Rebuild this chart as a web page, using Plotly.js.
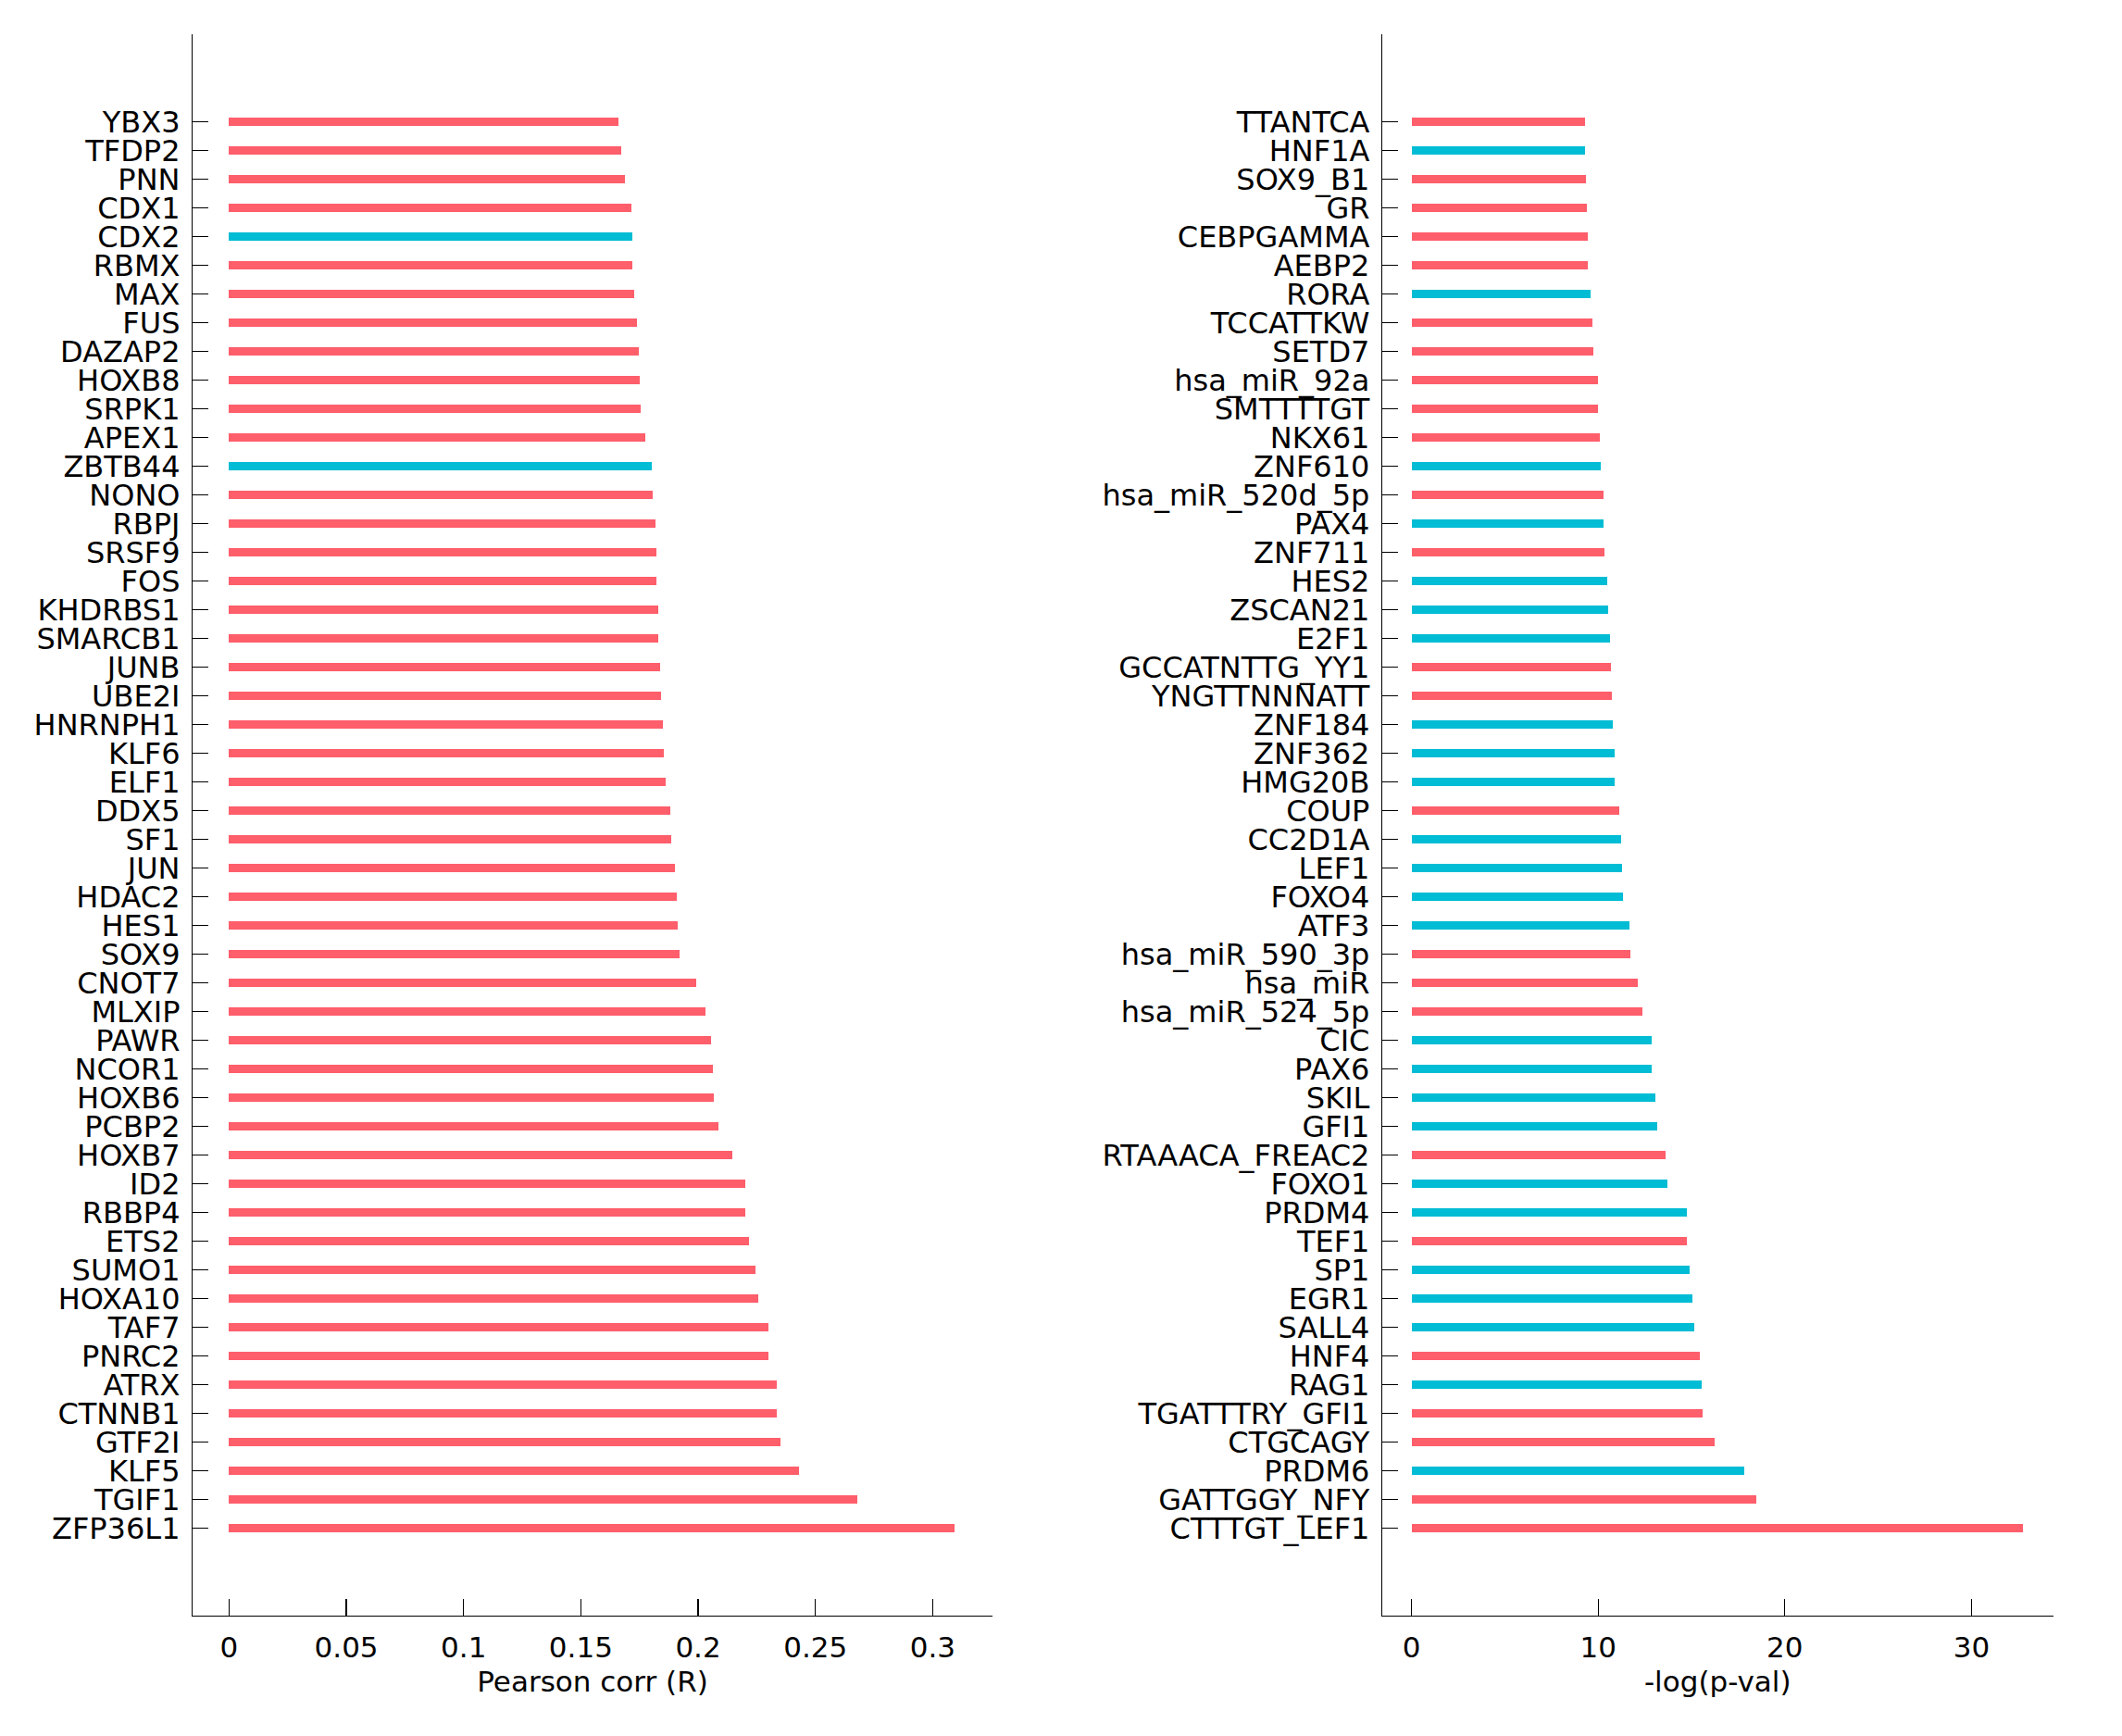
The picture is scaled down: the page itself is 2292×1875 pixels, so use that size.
<!DOCTYPE html>
<html>
<head>
<meta charset="utf-8">
<script src="https://cdn.plot.ly/plotly-3.0.1.min.js"></script>
<style>
html, body { margin: 0; padding: 0; background: #fff; }
#chart { width: 2292px; height: 1875px; }
</style>
</head>
<body>
<div id="chart"></div>
<script>
// Left panel: Pearson correlation (listed top to bottom)
const corrNames = ["YBX3","TFDP2","PNN","CDX1","CDX2","RBMX","MAX","FUS","DAZAP2","HOXB8","SRPK1","APEX1","ZBTB44","NONO","RBPJ","SRSF9","FOS","KHDRBS1","SMARCB1","JUNB","UBE2I","HNRNPH1","KLF6","ELF1","DDX5","SF1","JUN","HDAC2","HES1","SOX9","CNOT7","MLXIP","PAWR","NCOR1","HOXB6","PCBP2","HOXB7","ID2","RBBP4","ETS2","SUMO1","HOXA10","TAF7","PNRC2","ATRX","CTNNB1","GTF2I","KLF5","TGIF1","ZFP36L1"];
const corrValues = [0.1661,0.1672,0.1688,0.1715,0.1718,0.1720,0.1727,0.1740,0.1747,0.1752,0.1756,0.1776,0.1801,0.1806,0.1820,0.1822,0.1824,0.1829,0.1831,0.1838,0.1842,0.1851,0.1852,0.1860,0.1883,0.1884,0.1901,0.1910,0.1911,0.1921,0.1992,0.2032,0.2057,0.2064,0.2067,0.2085,0.2146,0.2202,0.2202,0.2218,0.2245,0.2257,0.2298,0.2299,0.2336,0.2337,0.2350,0.2429,0.2680,0.3095];
const corrGroup = ["r","r","r","r","c","r","r","r","r","r","r","r","c","r","r","r","r","r","r","r","r","r","r","r","r","r","r","r","r","r","r","r","r","r","r","r","r","r","r","r","r","r","r","r","r","r","r","r","r","r"];

// Right panel: -log(p-val) (listed top to bottom)
const pNames = ["TTANTCA","HNF1A","SOX9_B1","GR","CEBPGAMMA","AEBP2","RORA","TCCATTKW","SETD7","hsa_miR_92a","SMTTTTGT","NKX61","ZNF610","hsa_miR_520d_5p","PAX4","ZNF711","HES2","ZSCAN21","E2F1","GCCATNTTG_YY1","YNGTTNNNATT","ZNF184","ZNF362","HMG20B","COUP","CC2D1A","LEF1","FOXO4","ATF3","hsa_miR_590_3p","hsa_miR","hsa_miR_524_5p","CIC","PAX6","SKIL","GFI1","RTAAACA_FREAC2","FOXO1","PRDM4","TEF1","SP1","EGR1","SALL4","HNF4","RAG1","TGATTTRY_GFI1","CTGCAGY","PRDM6","GATTGGY_NFY","CTTTGT_LEF1"];
const pValues = [9.27,9.30,9.34,9.41,9.45,9.46,9.59,9.70,9.74,9.99,9.99,10.10,10.13,10.28,10.31,10.35,10.50,10.53,10.64,10.68,10.71,10.79,10.86,10.87,11.11,11.22,11.29,11.33,11.65,11.73,12.12,12.38,12.85,12.88,13.07,13.17,13.61,13.72,14.73,14.77,14.91,15.06,15.16,15.42,15.56,15.60,16.25,17.81,18.49,32.75];
const pGroup = ["r","c","r","r","r","r","c","r","r","r","r","r","c","r","c","r","c","c","c","r","r","c","c","c","r","c","c","c","c","r","r","r","c","c","c","c","r","c","c","r","c","c","c","r","c","r","r","c","r","r"];

const xTicksLeft = [0,0.05,0.1,0.15,0.2,0.25,0.3];
const xTickTextLeft = ["0","0.05","0.1","0.15","0.2","0.25","0.3"];
const xTicksRight = [0,10,20,30];
const xTickTextRight = ["0","10","20","30"];

const palette = { r: "#FF5E6B", c: "#00BCD4" };
const FONT = "DejaVu Sans, sans-serif";

const traces = [
  {
    type: "bar", orientation: "h",
    x: corrValues, y: corrNames,
    marker: { color: corrGroup.map(g => palette[g]), line: { width: 0 } },
    width: 0.3, xaxis: "x", yaxis: "y", hoverinfo: "x+y", showlegend: false
  },
  {
    type: "bar", orientation: "h",
    x: pValues, y: pNames,
    marker: { color: pGroup.map(g => palette[g]), line: { width: 0 } },
    width: 0.3, xaxis: "x2", yaxis: "y2", hoverinfo: "x+y", showlegend: false
  }
];

const yCommon = {
  type: "category",
  range: [52.05, -3.05],
  showline: true, linecolor: "#000", linewidth: 1.2,
  ticks: "inside", ticklen: 17, tickwidth: 1.2, tickcolor: "#000",
  showgrid: false, zeroline: false,
  tickfont: { family: FONT, size: 32, color: "#000" },
  ticklabelstandoff: 6,
  tickmode: "array",
  domain: [0.0693, 0.9801],
  fixedrange: true
};
const xCommon = {
  showline: true, linecolor: "#000", linewidth: 1.2,
  ticks: "inside", ticklen: 18, tickwidth: 1.2, tickcolor: "#000",
  showgrid: false, zeroline: false,
  tickfont: { family: FONT, size: 31, color: "#000" },
  ticklabelstandoff: 7,
  tickmode: "array",
  fixedrange: true
};

const layout = {
  width: 2292, height: 1875,
  margin: { l: 0, r: 0, t: 0, b: 0 },
  paper_bgcolor: "#fff", plot_bgcolor: "#fff",
  bargap: 0,
  xaxis: Object.assign({}, xCommon, {
    domain: [0.0908, 0.4677], anchor: "y",
    range: [-0.01551, 0.3255],
    tickvals: xTicksLeft, ticktext: xTickTextLeft,
    title: { text: "Pearson corr (R)", font: { family: FONT, size: 31, color: "#000" }, standoff: 8 }
  }),
  yaxis: Object.assign({}, yCommon, { anchor: "x", tickvals: corrNames, ticktext: corrNames }),
  xaxis2: Object.assign({}, xCommon, {
    domain: [0.6514, 0.9675], anchor: "y2",
    range: [-1.57, 34.37],
    tickvals: xTicksRight, ticktext: xTickTextRight,
    title: { text: "-log(p-val)", font: { family: FONT, size: 31, color: "#000" }, standoff: 8 }
  }),
  yaxis2: Object.assign({}, yCommon, { anchor: "x2", tickvals: pNames, ticktext: pNames })
};

Plotly.newPlot("chart", traces, layout, { displayModeBar: false, staticPlot: true });
</script>
</body>
</html>
